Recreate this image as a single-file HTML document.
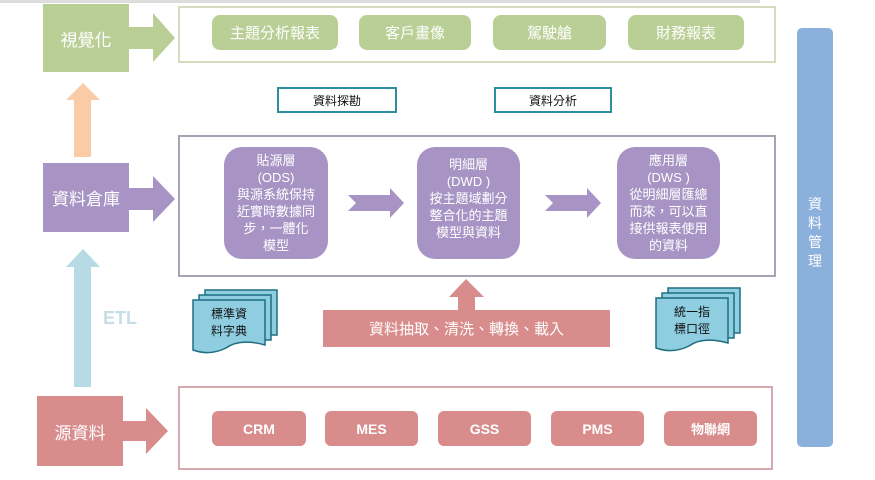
<!DOCTYPE html>
<html><head><meta charset="utf-8"><style>
body{margin:0;width:875px;height:480px;background:#fff;position:relative;overflow:hidden;font-family:"Liberation Sans","Noto Sans CJK TC",sans-serif}
.a{position:absolute;box-sizing:border-box;display:flex;align-items:center;justify-content:center;text-align:center}
.g{background:#b9cf95;color:#fff;border-radius:8px;font-size:15px}
.p{background:#a794c4;color:#fff;border-radius:18px;font-size:13px;line-height:17px;flex-direction:column}
.r{background:#d98c8c;color:#fff;border-radius:6px;font-size:14px;font-weight:bold}
.t{border:2px solid #2e8ea0;background:#fff;font-size:12px;color:#111}
</style></head><body>
<div style="position:absolute;left:0;top:0;width:760px;height:3px;background:#ddd"></div>
<svg width="875" height="480" style="position:absolute;left:0;top:0">
<polygon points="129,27 153,27 153,13 175,38 153,62 153,49 129,49" fill="#b9cf95"/>
<polygon points="129,188 153,188 153,176 175,199 153,222 153,210 129,210" fill="#a794c4"/>
<polygon points="123,421 146,421 146,408 168,431 146,454 146,441 123,441" fill="#d98c8c"/>
<polygon points="74,157 91,157 91,100 100,100 83,83 66,100 74,100" fill="#f9cba6"/>
<polygon points="74,387 91,387 91,267 100,267 83,249 66,267 74,267" fill="#b7dbe4"/>
<polygon points="458,310 475,310 475,297 484,297 466,279 449,297 458,297" fill="#d98c8c"/>
<polygon points="348,195 390,195 390,188 404,203 390,218 390,211 348,211 356,203" fill="#a794c4"/>
<polygon points="545,195 587,195 587,188 601,203 587,218 587,211 545,211 553,203" fill="#a794c4"/>
<g fill="#8fcde0" stroke="#1f6f80" stroke-width="1.5">
<path d="M205,290 H277 V335 H205 Z"/><path d="M199,295 H271 V340 H199 Z"/>
<path d="M193,300 H265 V345 Q240,338 226,348 Q210,356 193,350 Z"/>
<path d="M668,288 H740 V333 H668 Z"/><path d="M662,293 H734 V338 H662 Z"/>
<path d="M656,298 H728 V343 Q703,336 689,346 Q673,354 656,348 Z"/>
</g>
</svg>
<div class="a" style="left:43px;top:4px;width:86px;height:68px;background:#b9cf95;color:#fff;font-size:17px">視覺化</div>
<div class="a" style="left:43px;top:163px;width:86px;height:69px;background:#a794c4;color:#fff;font-size:17px">資料倉庫</div>
<div class="a" style="left:37px;top:396px;width:86px;height:70px;background:#d98c8c;color:#fff;font-size:17px">源資料</div>
<div class="a" style="left:98px;top:306px;width:44px;height:24px;color:#c5dee5;font-size:18px;font-weight:bold">ETL</div>
<div class="a" style="left:178px;top:6px;width:598px;height:57px;border:2px solid #d3dcbc"></div>
<div class="a g" style="left:212px;top:15px;width:126px;height:35px">主題分析報表</div>
<div class="a g" style="left:359px;top:15px;width:112px;height:35px">客戶畫像</div>
<div class="a g" style="left:493px;top:15px;width:113px;height:35px">駕駛艙</div>
<div class="a g" style="left:628px;top:15px;width:116px;height:35px">財務報表</div>
<div class="a t" style="left:277px;top:87px;width:120px;height:26px">資料探勘</div>
<div class="a t" style="left:494px;top:87px;width:118px;height:26px">資料分析</div>
<div class="a" style="left:178px;top:135px;width:598px;height:142px;border:2px solid #a9a4b4"></div>
<div class="a p" style="left:224px;top:147px;width:104px;height:112px"><div>貼源層</div><div>(ODS)</div><div>與源系統保持</div><div>近實時數據同</div><div>步，一體化</div><div>模型</div></div>
<div class="a p" style="left:417px;top:147px;width:103px;height:112px;justify-content:flex-start;padding-top:9px"><div>明細層</div><div>(DWD )</div><div>按主題域劃分</div><div>整合化的主題</div><div>模型與資料</div></div>
<div class="a p" style="left:617px;top:147px;width:103px;height:112px"><div>應用層</div><div>(DWS )</div><div>從明細層匯總</div><div>而來，可以直</div><div>接供報表使用</div><div>的資料</div></div>
<div class="a" style="left:323px;top:310px;width:287px;height:37px;background:#d98c8c;color:#fff;font-size:15px">資料抽取、清洗、轉換、載入</div>
<div class="a" style="left:193px;top:303px;width:72px;height:40px;font-size:12px;line-height:17px;flex-direction:column;color:#111"><div>標準資</div><div>料字典</div></div>
<div class="a" style="left:656px;top:301px;width:72px;height:40px;font-size:12px;line-height:17px;flex-direction:column;color:#111"><div>統一指</div><div>標口徑</div></div>
<div class="a" style="left:178px;top:386px;width:595px;height:84px;border:2px solid #d7a8ad"></div>
<div class="a r" style="left:212px;top:411px;width:94px;height:35px">CRM</div>
<div class="a r" style="left:325px;top:411px;width:93px;height:35px">MES</div>
<div class="a r" style="left:438px;top:411px;width:93px;height:35px">GSS</div>
<div class="a r" style="left:551px;top:411px;width:93px;height:35px">PMS</div>
<div class="a r" style="left:664px;top:411px;width:93px;height:35px;font-size:13px">物聯網</div>
<div class="a" style="left:797px;top:28px;width:36px;height:419px;background:#8cb0dc;border-radius:5px;color:#fff;font-size:14px;line-height:19px;flex-direction:column;padding-bottom:10px"><div>資</div><div>料</div><div>管</div><div>理</div></div>
</body></html>
